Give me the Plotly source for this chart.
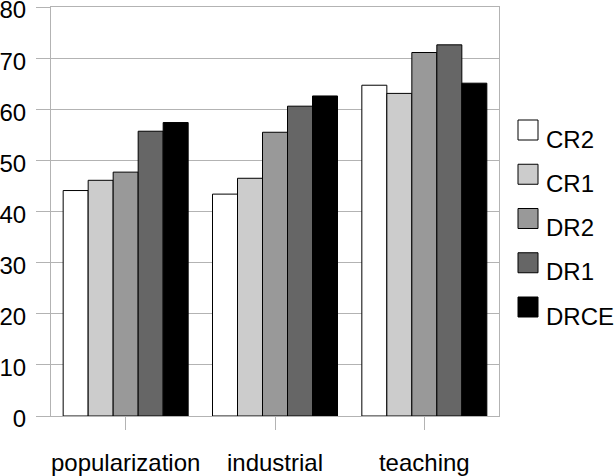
import plotly.graph_objects as go

categories = ["popularization", "industrial", "teaching"]
series_names = ["CR2", "CR1", "DR2", "DR1", "DRCE"]
CR2 = [44.1, 43.4, 64.7]
CR1 = [46.1, 46.5, 63.1]
DR2 = [47.7, 55.5, 71.1]
DR1 = [55.7, 60.6, 72.6]
DRCE = [57.4, 62.6, 65.1]
series_values = [CR2, CR1, DR2, DR1, DRCE]
colors = ["#ffffff", "#cccccc", "#999999", "#666666", "#000000"]
y_ticks = [0, 10, 20, 30, 40, 50, 60, 70, 80]

W, H = 616, 476
L, R, T, B = 51, 499, 7, 416
FONT = "Liberation Sans"
GRID = "#b3b3b3"

fig = go.Figure()
for name, vals, col in zip(series_names, series_values, colors):
    fig.add_trace(go.Bar(
        x=categories, y=vals, name=name,
        marker=dict(color=col, line=dict(color="#000000", width=1)),
        showlegend=False,
    ))

# manual legend (20px swatches)
def px_x(x):
    return (x - L) / (R - L)

def px_y(y):
    return (B - y) / (B - T)

shapes = []
annotations = []
top0, step, size = 120, 44.25, 20
for i, (name, col) in enumerate(zip(series_names, colors)):
    t = top0 + i * step
    shapes.append(dict(type="rect", xref="paper", yref="paper",
                       x0=px_x(518), x1=px_x(518 + size),
                       y0=px_y(t + size), y1=px_y(t),
                       fillcolor=col, line=dict(color="#000000", width=1)))
    annotations.append(dict(xref="paper", yref="paper", x=px_x(544), y=px_y(t + 19),
                            text=name, showarrow=False, xanchor="left", yanchor="middle",
                            font=dict(family=FONT, size=24, color="#000000")))

fig.update_layout(
    width=W, height=H,
    margin=dict(l=L, r=W - R, t=T, b=H - B, pad=0, autoexpand=False),
    paper_bgcolor="#ffffff", plot_bgcolor="#ffffff",
    barmode="group", bargap=0.163, bargroupgap=0,
    font=dict(family=FONT, size=24, color="#000000"),
    shapes=shapes, annotations=annotations,
    showlegend=False,
)
fig.update_xaxes(
    automargin=False,
    showline=True, mirror=True, linecolor=GRID, linewidth=1,
    ticks="outside", ticklen=13, tickcolor=GRID, tickwidth=1,
    showgrid=False, ticklabelstandoff=12,
    tickfont=dict(family=FONT, size=24, color="#000000"),
)
fig.update_yaxes(
    automargin=False, ticklabeloverflow="allow",
    range=[0, 80], tickvals=y_ticks, showline=True, mirror=True,
    linecolor=GRID, linewidth=1, showgrid=True, gridcolor=GRID, gridwidth=1,
    ticks="outside", ticklen=14, tickcolor=GRID, tickwidth=1,
    zeroline=False, ticklabelstandoff=5, ticklabelshift=3,
    tickfont=dict(family=FONT, size=24, color="#000000"),
)

fig.write_html(
    "out.html",
    config={"displayModeBar": False},
    post_script="document.body.style.margin='0';document.body.style.overflow='hidden';",
)
